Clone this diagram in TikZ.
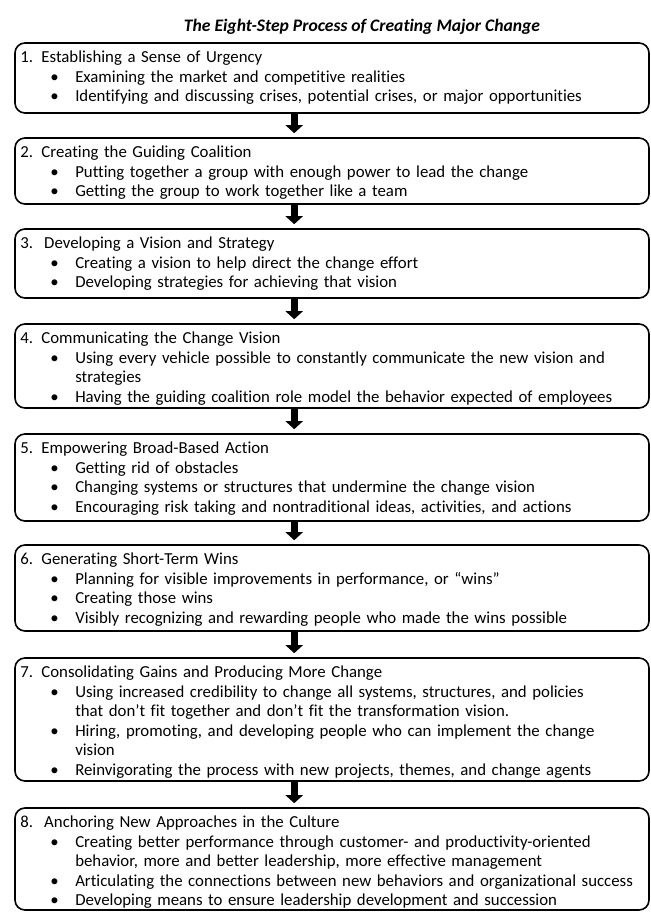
\documentclass[tikz,border=0pt]{standalone}
\usepackage{fontspec}
\setmainfont{Carlito}[Ligatures=CommonOff]
\usetikzlibrary{arrows.meta,fit,calc}
\setlength\parindent{0pt}
\tikzset{
  stepbox/.style={draw, line width=1.2pt, rounded corners=7.5pt, inner sep=0pt},
  steptext/.style={anchor=north west, inner sep=0pt, text width=640pt,
    font=\fontsize{12.6}{14.6}\selectfont},
  flowarrow/.style={line width=5.25pt, -{Triangle[width=12.75pt,length=6pt]}},
  titletext/.style={inner sep=0pt, font=\fontsize{13.2}{15}\selectfont\bfseries\itshape},
}
\newcommand\bul[1]{\par\hangindent=41.25pt\hangafter=1\noindent\hspace*{22.5pt}\makebox[18.75pt][l]{\textbullet}#1}
\newcommand\stepcontent[1]{\raggedright\hyphenpenalty=10000 #1}
\begin{document}
\begin{tikzpicture}[x=0.75pt,y=-0.75pt]
\useasboundingbox (0,0) rectangle (650,913);
\node[titletext] (title) at (362,27) {The Eight-Step Process of Creating Major Change};

% boxes
\node[stepbox, fit={(15,43) (649,113)}] (b1) {};
\node[stepbox, fit={(15,138) (649,204)}] (b2) {};
\node[stepbox, fit={(15,229) (649,298)}] (b3) {};
\node[stepbox, fit={(15,324) (649,408)}] (b4) {};
\node[stepbox, fit={(15,434) (649,521)}] (b5) {};
\node[stepbox, fit={(15,545) (649,631)}] (b6) {};
\node[stepbox, fit={(15,658) (649,781)}] (b7) {};
\node[stepbox, fit={(15,808) (649,910)}] (b8) {};

% texts
\node[steptext] (t1) at (20,51) {\stepcontent{1. Establishing a Sense of Urgency
\bul{Examining the market and competitive realities}
\bul{Identifying and discussing crises, potential crises, or major opportunities}}};

\node[steptext] (t2) at (20,146) {\stepcontent{2. Creating the Guiding Coalition
\bul{Putting together a group with enough power to lead the change}
\bul{Getting the group to work together like a team}}};

\node[steptext] (t3) at (20,237) {\stepcontent{3.~~Developing a Vision and Strategy
\bul{Creating a vision to help direct the change effort}
\bul{Developing strategies for achieving that vision}}};

\node[steptext] (t4) at (20,332) {\stepcontent{4. Communicating the Change Vision
\bul{Using every vehicle possible to constantly communicate the new vision and\newline strategies}
\bul{Having the guiding coalition role model the behavior expected of employees}}};

\node[steptext] (t5) at (20,442) {\stepcontent{5. Empowering Broad-Based Action
\bul{Getting rid of obstacles}
\bul{Changing systems or structures that undermine the change vision}
\bul{Encouraging risk taking and nontraditional ideas, activities, and actions}}};

\node[steptext] (t6) at (20,553) {\stepcontent{6. Generating Short-Term Wins
\bul{Planning for visible improvements in performance, or “wins”}
\bul{Creating those wins}
\bul{Visibly recognizing and rewarding people who made the wins possible}}};

\node[steptext] (t7) at (20,666) {\stepcontent{7. Consolidating Gains and Producing More Change
\bul{Using increased credibility to change all systems, structures, and policies\newline that don’t fit together and don’t fit the transformation vision.}
\bul{Hiring, promoting, and developing people who can implement the change\newline vision}
\bul{Reinvigorating the process with new projects, themes, and change agents}}};

\node[steptext] (t8) at (20,816) {\stepcontent{8.~~Anchoring New Approaches in the Culture
\bul{Creating better performance through customer- and productivity-oriented\newline behavior, more and better leadership, more effective management}
\bul{Articulating the connections between new behaviors and organizational success}
\bul{Developing means to ensure leadership development and succession}}};

% arrows
\foreach \a/\b in {b1/b2,b2/b3,b3/b4,b4/b5,b5/b6,b6/b7,b7/b8}{
  \draw[flowarrow] ($(\a.south west)+(280,0)$) -- ($(\b.north west)+(280,-4)$);
}
\end{tikzpicture}
\end{document}
